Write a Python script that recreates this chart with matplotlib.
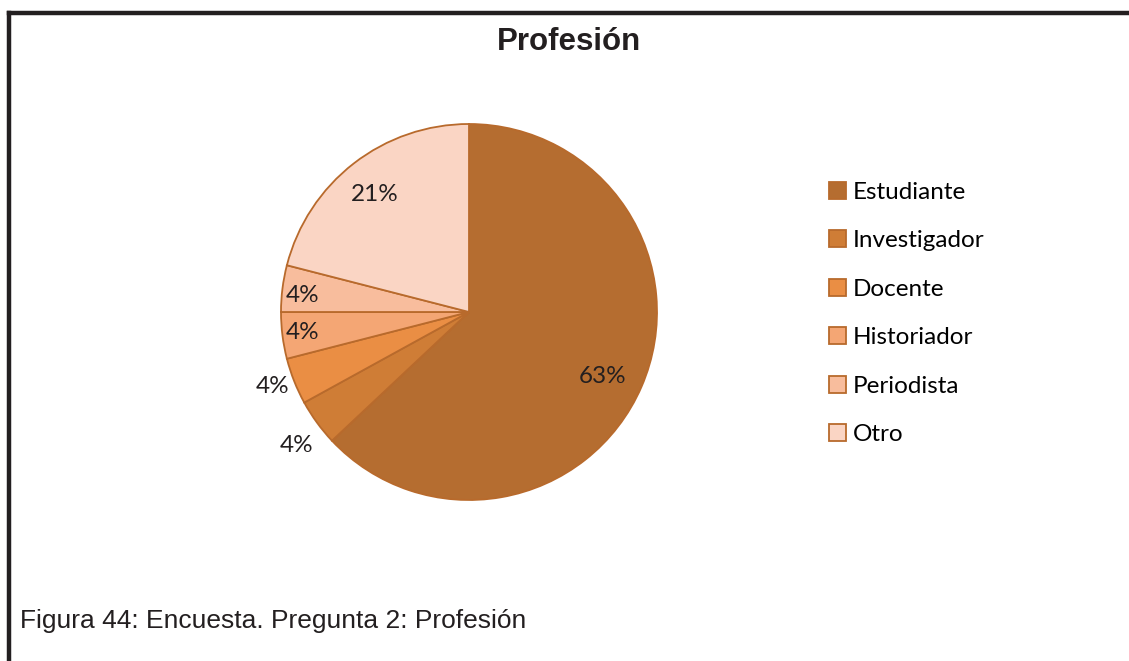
import matplotlib.pyplot as plt
import numpy as np
from matplotlib.lines import Line2D
from matplotlib.patches import Patch

# Datos de la encuesta
categorias = ['Estudiante', 'Investigador', 'Docente', 'Historiador', 'Periodista', 'Otro']
porcentajes = [63, 4, 4, 4, 4, 21]
colores = ['#B56D30', '#CF7D36', '#EA8E44', '#F4A674', '#F8BD9D', '#FAD5C4']
borde = '#B86A2C'
# colocacion de etiquetas: distancia al centro (fraccion del radio) y giro en grados
dist_etiqueta = [0.79, 1.16, 1.12, 0.89, 0.89, 0.80]
giro_etiqueta = [-2.5, 1.9, -0.8, -0.3, 1.4, 1.0]

fig = plt.figure(figsize=(11.29, 6.61), dpi=100)

# marco negro (izquierda y arriba)
fig.add_artist(Line2D([0.0080, 0.0080], [0.0, 0.981], transform=fig.transFigure,
                      color='#231F20', lw=3.2, solid_capstyle='projecting'))
fig.add_artist(Line2D([0.0080, 1.0], [0.981, 0.981], transform=fig.transFigure,
                      color='#231F20', lw=3.2, solid_capstyle='projecting'))

# pie: centro (469, 312), radio 188 px
ax = fig.add_axes([(469 - 188) / 1129, 1 - (312 + 188) / 661, 376 / 1129, 376 / 661])
wedges, _ = ax.pie(porcentajes, colors=colores, startangle=90, counterclock=False,
                   radius=1.0, wedgeprops=dict(edgecolor=borde, linewidth=1.3))
ax.set_xlim(-1, 1)
ax.set_ylim(-1, 1)
ax.set_aspect('equal')
ax.axis('off')

for w, p, d, g in zip(wedges, porcentajes, dist_etiqueta, giro_etiqueta):
    ang = np.deg2rad((w.theta1 + w.theta2) / 2 + g)
    ax.text(d * np.cos(ang), d * np.sin(ang), f'{p}%', ha='center', va='center',
            fontsize=17.5, family='Lato', color='#231F20', clip_on=False)

fig.text(569 / 1129, 1 - 42 / 661, 'Profesión', ha='center', va='center',
         fontsize=22.5, fontweight='bold', family='Liberation Sans', color='#231F20')

handles = [Patch(facecolor=c, edgecolor=borde, linewidth=1.3) for c in colores]
fig.legend(handles, categorias, loc='upper left', bbox_to_anchor=(819 / 1129, 1 - 172 / 661),
           frameon=False, prop={'family': 'Lato', 'size': 17.5}, handlelength=0.7,
           handleheight=0.7, handletextpad=0.3, labelspacing=1.13, borderaxespad=0)

fig.text(20 / 1129, 1 - 621 / 661, 'Figura 44: Encuesta. Pregunta 2: Profesión', ha='left',
         va='center', fontsize=19, family='Liberation Sans', color='#231F20')

fig.savefig('out.png', dpi=100)
